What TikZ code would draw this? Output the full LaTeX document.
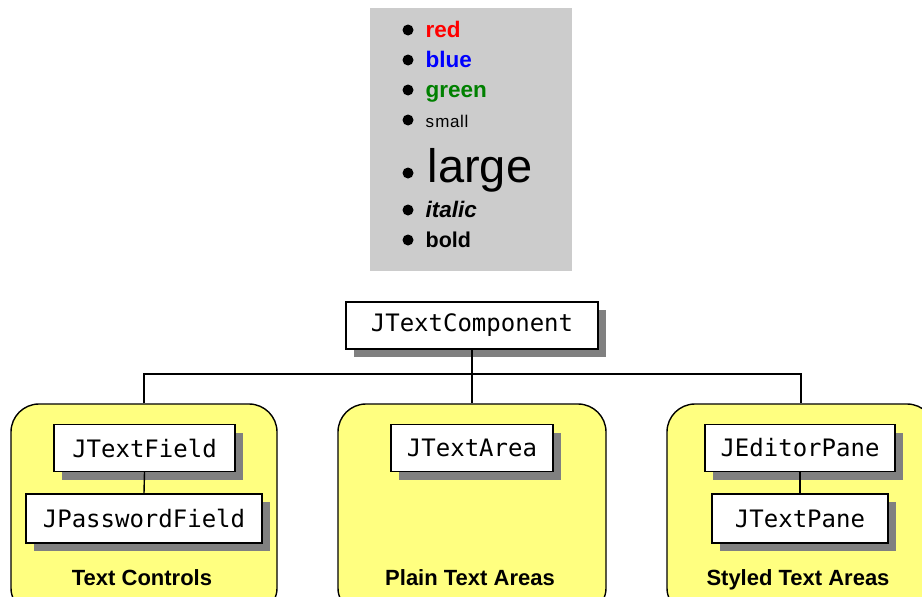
\documentclass[tikz,border=0pt]{standalone}
\usepackage{fontspec}
\setmainfont{Liberation Sans}
\newfontfamily\monofont{DejaVu Sans Mono}
\usetikzlibrary{shadows}
\definecolor{legendgray}{HTML}{CCCCCC}
\definecolor{panelyellow}{HTML}{FFFF80}
\definecolor{shadowgray}{HTML}{808080}
\definecolor{itemgreen}{HTML}{008000}

\begin{document}
\begin{tikzpicture}[x=1pt, y=-1pt, line width=1.4pt]
    \tikzset{
        cls/.style={rectangle, draw, fill=white, minimum height=47pt, inner sep=0pt,
            font=\monofont\fontsize{24}{26}\selectfont,
            drop shadow={shadow xshift=8pt, shadow yshift=-8pt, fill=shadowgray, opacity=1}},
        panel/.style={rectangle, draw, fill=panelyellow, rounded corners=28pt,
            minimum height=212pt, inner sep=0pt},
        group/.style={anchor=base, font=\bfseries\fontsize{22}{24}\selectfont},
        dot/.style={circle, fill=black, inner sep=0pt, minimum size=11pt},
        item/.style={anchor=base west, inner sep=0pt, font=\fontsize{22.5}{24}\selectfont}
    }
    \useasboundingbox (0,0) rectangle (922,597);
    \clip (0,0) rectangle (922,597);
    % style list
    \node[fill=legendgray, minimum width=202pt, minimum height=263pt, inner sep=0pt] (legend) at (471,139.5) {};
    \node[dot] (d1) at (408,30) {};
    \node[dot] (d2) at (408,60) {};
    \node[dot] (d3) at (408,90) {};
    \node[dot] (d4) at (408,120) {};
    \node[dot] (d5) at (408,173) {};
    \node[dot] (d6) at (408,210) {};
    \node[dot] (d7) at (408,240) {};
    \node[item, text=red, font=\bfseries\fontsize{22.5}{24}\selectfont] (red) at (425,37) {red};
    \node[item, text=blue, font=\bfseries\fontsize{22.5}{24}\selectfont] (blue) at (425,67) {blue};
    \node[item, text=itemgreen, font=\bfseries\fontsize{22.5}{24}\selectfont] (green) at (425,97) {green};
    \node[item, font=\fontsize{17}{18}\selectfont, text width=50pt] (small) at (425,127) {s\hspace{1.2pt}m\hspace{0.6pt}a\hspace{0.6pt}l\hspace{0.6pt}l};
    \node[item, font=\fontsize{47}{50}\selectfont] (large) at (427,182) {large};
    \node[item, font=\bfseries\itshape\fontsize{22.5}{24}\selectfont] (italic) at (425,217) {italic};
    \node[item, font=\bfseries\fontsize{21.5}{24}\selectfont] (bold) at (425,247) {bold};

    % panels
    \node[panel, minimum width=266pt] (ctrl) at (144,510) {};
    \node[panel, minimum width=268pt] (plain) at (472,510) {};
    \node[panel, minimum width=268pt] (styled) at (801,510) {};
    \node[group] (ctrllbl) at (142,585) {Text Controls};
    \node[group] (plainlbl) at (470,585) {Plain Text Areas};
    \node[group] (styledlbl) at (798,585) {Styled Text Areas};

    % classes
    \node[cls, minimum width=252pt] (comp) at (472,325.5) {JTextComponent};
    \node[cls, minimum width=181pt] (tfield) at (144.5,448) {JTextField};
    \node[cls, minimum width=236pt, minimum height=49pt] (pwfield) at (144,518.5) {JPasswordField};
    \node[cls, minimum width=162pt] (tarea) at (472,448) {JTextArea};
    \node[cls, minimum width=190pt] (editor) at (800,448) {JEditorPane};
    \node[cls, minimum width=176pt, minimum height=49pt] (tpane) at (800,518.5) {JTextPane};

    % connectors
    \coordinate (bus) at (472,374);
    \draw (comp.south) -- (plain.north);
    \draw (ctrl.north) |- (bus) -| (styled.north);
    \draw (tfield.south) -- (pwfield.north);
    \draw (editor.south) -- (tpane.north);
\end{tikzpicture}
\end{document}
